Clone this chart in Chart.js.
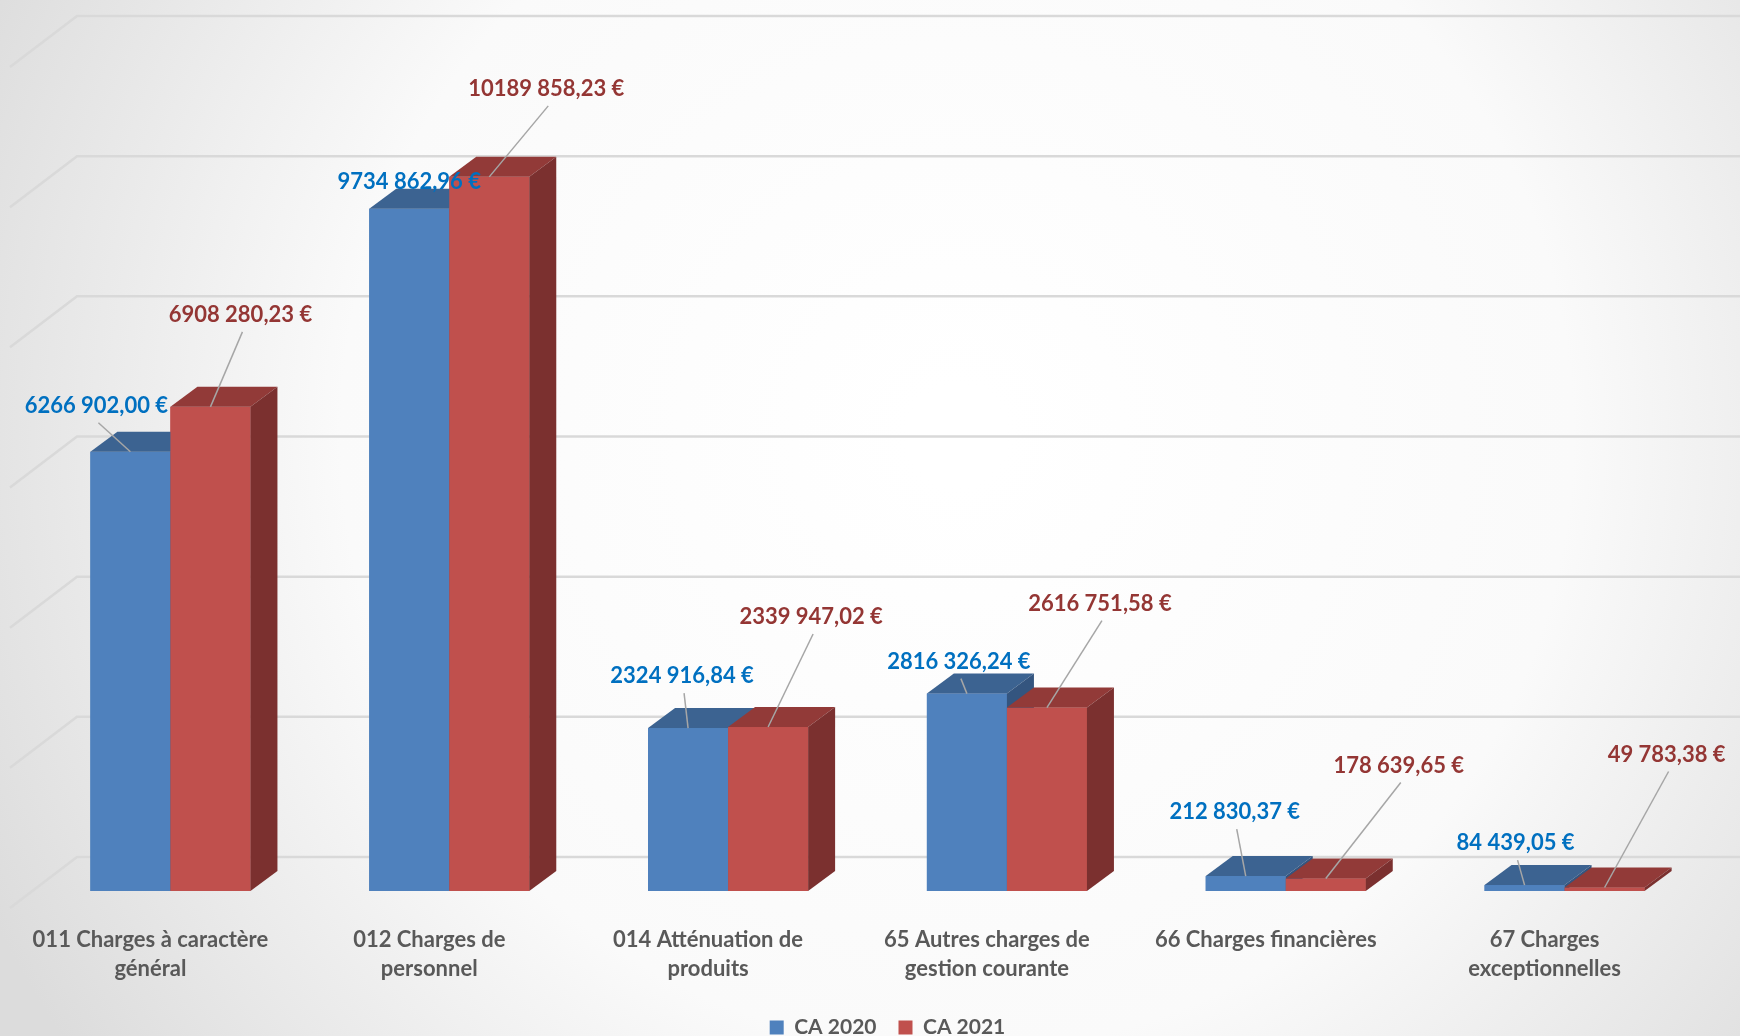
<!DOCTYPE html>
<html>
<head>
<meta charset="utf-8">
<script src="https://cdn.jsdelivr.net/npm/chart.js@4.4.1/dist/chart.umd.min.js"></script>
<style>
html,body{margin:0;padding:0;background:#fff;}
#wrap{width:1740px;height:1036px;}
</style>
</head>
<body>
<div id="wrap"><canvas id="c" width="1740" height="1036"></canvas></div>
<script>
// ---- DATA ----
const categories = [
  ["011 Charges à caractère", "général"],
  ["012 Charges de", "personnel"],
  ["014 Atténuation de", "produits"],
  ["65 Autres charges de", "gestion courante"],
  ["66 Charges financières"],
  ["67 Charges", "exceptionnelles"]
];
const seriesNames = ["CA 2020", "CA 2021"];
const ca2020 = [6266902.00, 9734862.96, 2324916.84, 2816326.24, 212830.37, 84439.05];
const ca2021 = [6908280.23, 10189858.23, 2339947.02, 2616751.58, 178639.65, 49783.38];
const yMax = 12000000;
const yStep = 2000000;

// ---- LAYOUT / STYLE (not data) ----
const FONT = "Lato, 'Open Sans', sans-serif";
const depth = {dx: 27, dy: 20};
const wall = {dx: 46, dy: -34, diagDx: -67, diagDy: 51};
const legendShift = 20;
const faces = [
  {front: "#4F81BD", top: "#3C6391", side: "#34557F", label: "#0070C0"},
  {front: "#C0504D", top: "#923A38", side: "#7B302F", label: "#943634"}
];
// label offsets relative to front-top centre of each bar
const labelOffsets = [
  [[-34,-46],[0,-27],[-6,-52],[-8,-32],[-11,-64],[-9,-42]],
  [[30,-92],[57,-88],[43,-110],[53,-104],[73,-113],[62,-133]]
];
const leaderOn = [[1,0,1,1,1,1],[1,1,1,1,1,1]];

function fmtEuro(v){
  const parts = v.toFixed(2).split(".");
  const intp = parts[0];
  const out = intp.length > 3 ? intp.slice(0, intp.length-3) + " " + intp.slice(-3) : intp;
  return out + "," + parts[1] + " €";
}

const bgPlugin = {
  id: "bg",
  afterLayout(chart){
    if (chart.legend){
      chart.legend.left += legendShift;
      chart.legend.right += legendShift;
    }
  },
  beforeDraw(chart){
    const {ctx, width, height} = chart;
    ctx.save();
    const g = ctx.createRadialGradient(width*0.55, height*0.42, 50, width*0.55, height*0.42, width*0.62);
    g.addColorStop(0, "#ffffff");
    g.addColorStop(0.55, "#fafafa");
    g.addColorStop(1, "#dcdcdc");
    ctx.fillStyle = g;
    ctx.fillRect(0,0,width,height);
    ctx.restore();
  },
  beforeDatasetsDraw(chart){
    const {ctx, chartArea, width} = chart;
    const ys = chart.scales.y;
    ctx.save();
    ctx.strokeStyle = "#d9d9d9";
    ctx.lineWidth = 2.5;
    ys.ticks.forEach(t => {
      const y = ys.getPixelForValue(t.value) + wall.dy;
      const x0 = chartArea.left + wall.dx;
      ctx.beginPath();
      ctx.moveTo(x0 + wall.diagDx, y + wall.diagDy);
      ctx.lineTo(x0, y);
      ctx.lineTo(width, y);
      ctx.stroke();
    });
    ctx.restore();
  },
  afterDatasetsDraw(chart){
    const {ctx} = chart;
    const n = categories.length;
    ctx.save();
    for (let i = 0; i < n; i++){
      for (let d = 0; d < 2; d++){
        const el = chart.getDatasetMeta(d).data[i];
        const f = faces[d];
        const l = el.x - el.width/2, r = el.x + el.width/2, t = el.y, b = el.base;
        ctx.fillStyle = f.front;
        ctx.fillRect(l, t, r-l, b-t);
        ctx.fillStyle = f.top;
        ctx.beginPath();
        ctx.moveTo(l, t); ctx.lineTo(l+depth.dx, t-depth.dy);
        ctx.lineTo(r+depth.dx, t-depth.dy); ctx.lineTo(r, t); ctx.closePath(); ctx.fill();
        ctx.fillStyle = f.side;
        ctx.beginPath();
        ctx.moveTo(r, t); ctx.lineTo(r+depth.dx, t-depth.dy);
        ctx.lineTo(r+depth.dx, b-depth.dy); ctx.lineTo(r, b); ctx.closePath(); ctx.fill();
      }
    }
    ctx.font = "bold 22px " + FONT;
    ctx.textAlign = "center";
    ctx.textBaseline = "middle";
    for (let d = 0; d < 2; d++){
      const vals = d === 0 ? ca2020 : ca2021;
      chart.getDatasetMeta(d).data.forEach((el, i) => {
        const lx = el.x + labelOffsets[d][i][0];
        const ly = el.y + labelOffsets[d][i][1];
        if (leaderOn[d][i]){
          ctx.strokeStyle = "#a6a6a6";
          ctx.lineWidth = 1.5;
          ctx.beginPath();
          ctx.moveTo(lx + 2, ly + 17);
          ctx.lineTo(el.x, el.y);
          ctx.stroke();
        }
        ctx.fillStyle = faces[d].label;
        ctx.fillText(fmtEuro(vals[i]), lx, ly);
      });
    }
    ctx.restore();
  }
};

new Chart(document.getElementById("c"), {
  type: "bar",
  data: {
    labels: categories,
    datasets: [
      {label: seriesNames[0], data: ca2020, backgroundColor: faces[0].front, borderWidth: 0},
      {label: seriesNames[1], data: ca2021, backgroundColor: faces[1].front, borderWidth: 0}
    ]
  },
  options: {
    responsive: false,
    devicePixelRatio: 1,
    animation: false,
    layout: {padding: {top: 50, left: 31, right: 36, bottom: -12}},
    datasets: {bar: {barPercentage: 1, categoryPercentage: 0.574}},
    scales: {
      x: {
        grid: {display: false},
        border: {display: false},
        ticks: {
          color: "#595959",
          font: {family: FONT, size: 22, weight: "bold", lineHeight: 1.32},
          padding: 26,
          labelOffset: -20,
          maxRotation: 0,
          autoSkip: false
        },
        afterFit(s){ s.height = 104; }
      },
      y: {
        display: false,
        min: 0, max: yMax,
        ticks: {stepSize: yStep}
      }
    },
    plugins: {
      legend: {
        position: "bottom",
        labels: {
          color: "#595959",
          font: {family: FONT, size: 21, weight: "bold"},
          boxWidth: 14, boxHeight: 14,
          padding: 22
        }
      },
      tooltip: {enabled: false}
    }
  },
  plugins: [bgPlugin]
});
</script>
</body>
</html>
